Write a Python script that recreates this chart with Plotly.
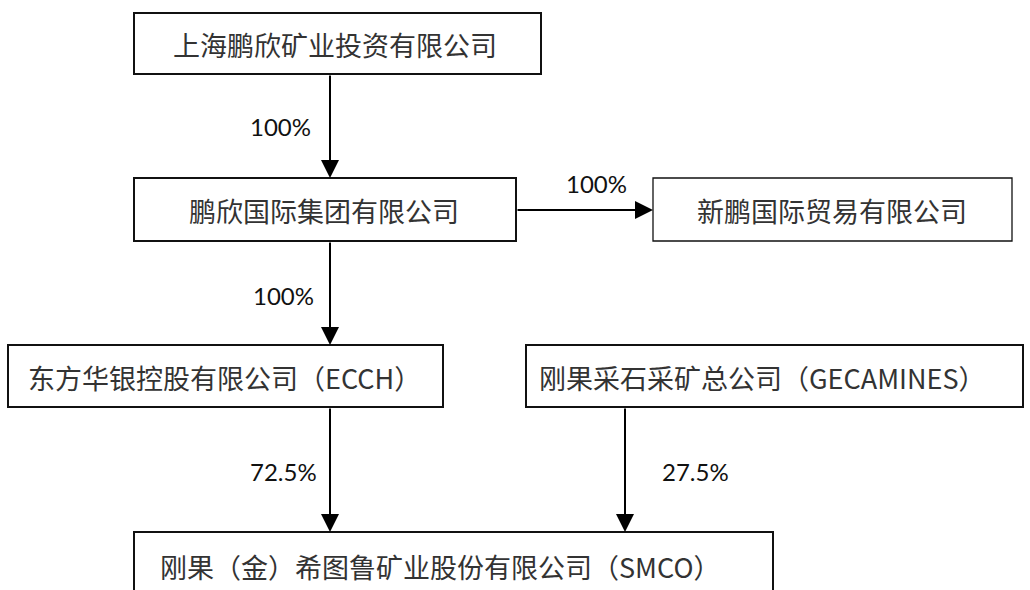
import plotly.graph_objects as go

# ---- data ----
node_names = [
    "上海鹏欣矿业投资有限公司",
    "鹏欣国际集团有限公司",
    "新鹏国际贸易有限公司",
    "东方华银控股有限公司（ECCH）",
    "刚果采石采矿总公司（GECAMINES）",
    "刚果（金）希图鲁矿业股份有限公司（SMCO）",
]
edge_from = [0, 1, 1, 3, 4]
edge_to = [1, 2, 3, 5, 5]
edge_share = ["100%", "100%", "100%", "72.5%", "27.5%"]

# ---- layout (pixel-space geometry) ----
box_x0 = [134, 134, 653, 8, 526, 134]
box_x1 = [541, 516, 1012, 443, 1023, 773]
box_y0 = [13, 178, 178, 345, 345, 532]
box_y1 = [74, 241, 241, 407, 407, 605]
box_lw = [2, 2, 1.3, 2, 2, 2]
text_x = [335, 324, 832, 224, 762, 440]
text_y = [44, 210, 210, 377, 377, 566]

# arrows: (tail x, tail y, tip x, tip y) and label position
arrow_geom = [
    (330, 74, 330, 178),
    (516, 210, 653, 210),
    (330, 241, 330, 345),
    (330, 407, 330, 532),
    (625, 407, 625, 532),
]
label_pos = [(280, 126), (596, 183), (283, 295), (283, 471), (695, 471)]

W, H = 1030, 590
fig = go.Figure()
fig.add_trace(go.Scatter(x=[0, W], y=[0, H], mode="markers",
                         marker=dict(opacity=0), hoverinfo="skip", showlegend=False))

cjk = "Noto Sans CJK SC"
for i, name in enumerate(node_names):
    fig.add_shape(type="rect", x0=box_x0[i], x1=box_x1[i], y0=box_y0[i], y1=box_y1[i],
                  xref="x", yref="y", line=dict(color="#111111", width=box_lw[i]),
                  fillcolor="white", layer="below")
    fig.add_annotation(x=text_x[i], y=text_y[i], text=name, showarrow=False,
                       xref="x", yref="y", xanchor="center", yanchor="middle",
                       font=dict(family=cjk, size=27, color="#333333"))

for k in range(len(edge_from)):
    tx, ty, hx, hy = arrow_geom[k]
    fig.add_annotation(x=hx, y=hy, ax=tx, ay=ty, xref="x", yref="y", axref="x", ayref="y",
                       text="", showarrow=True, arrowhead=2, arrowsize=1.8, arrowwidth=2,
                       arrowcolor="#000000", standoff=0, startstandoff=0)
    lx, ly = label_pos[k]
    fig.add_annotation(x=lx, y=ly, text=edge_share[k], showarrow=False, xref="x", yref="y",
                       xanchor="center", yanchor="middle",
                       font=dict(family="Lato", size=24, color="#111111"))

fig.update_xaxes(range=[0, W], visible=False, fixedrange=True)
fig.update_yaxes(range=[H, 0], visible=False, fixedrange=True)
fig.update_layout(width=W, height=H, margin=dict(l=0, r=0, t=0, b=0),
                  plot_bgcolor="white", paper_bgcolor="white", showlegend=False)

fig.write_html("out.html", config={"displayModeBar": False},
               post_script="document.body.style.margin='0';document.body.style.overflow='hidden';")
